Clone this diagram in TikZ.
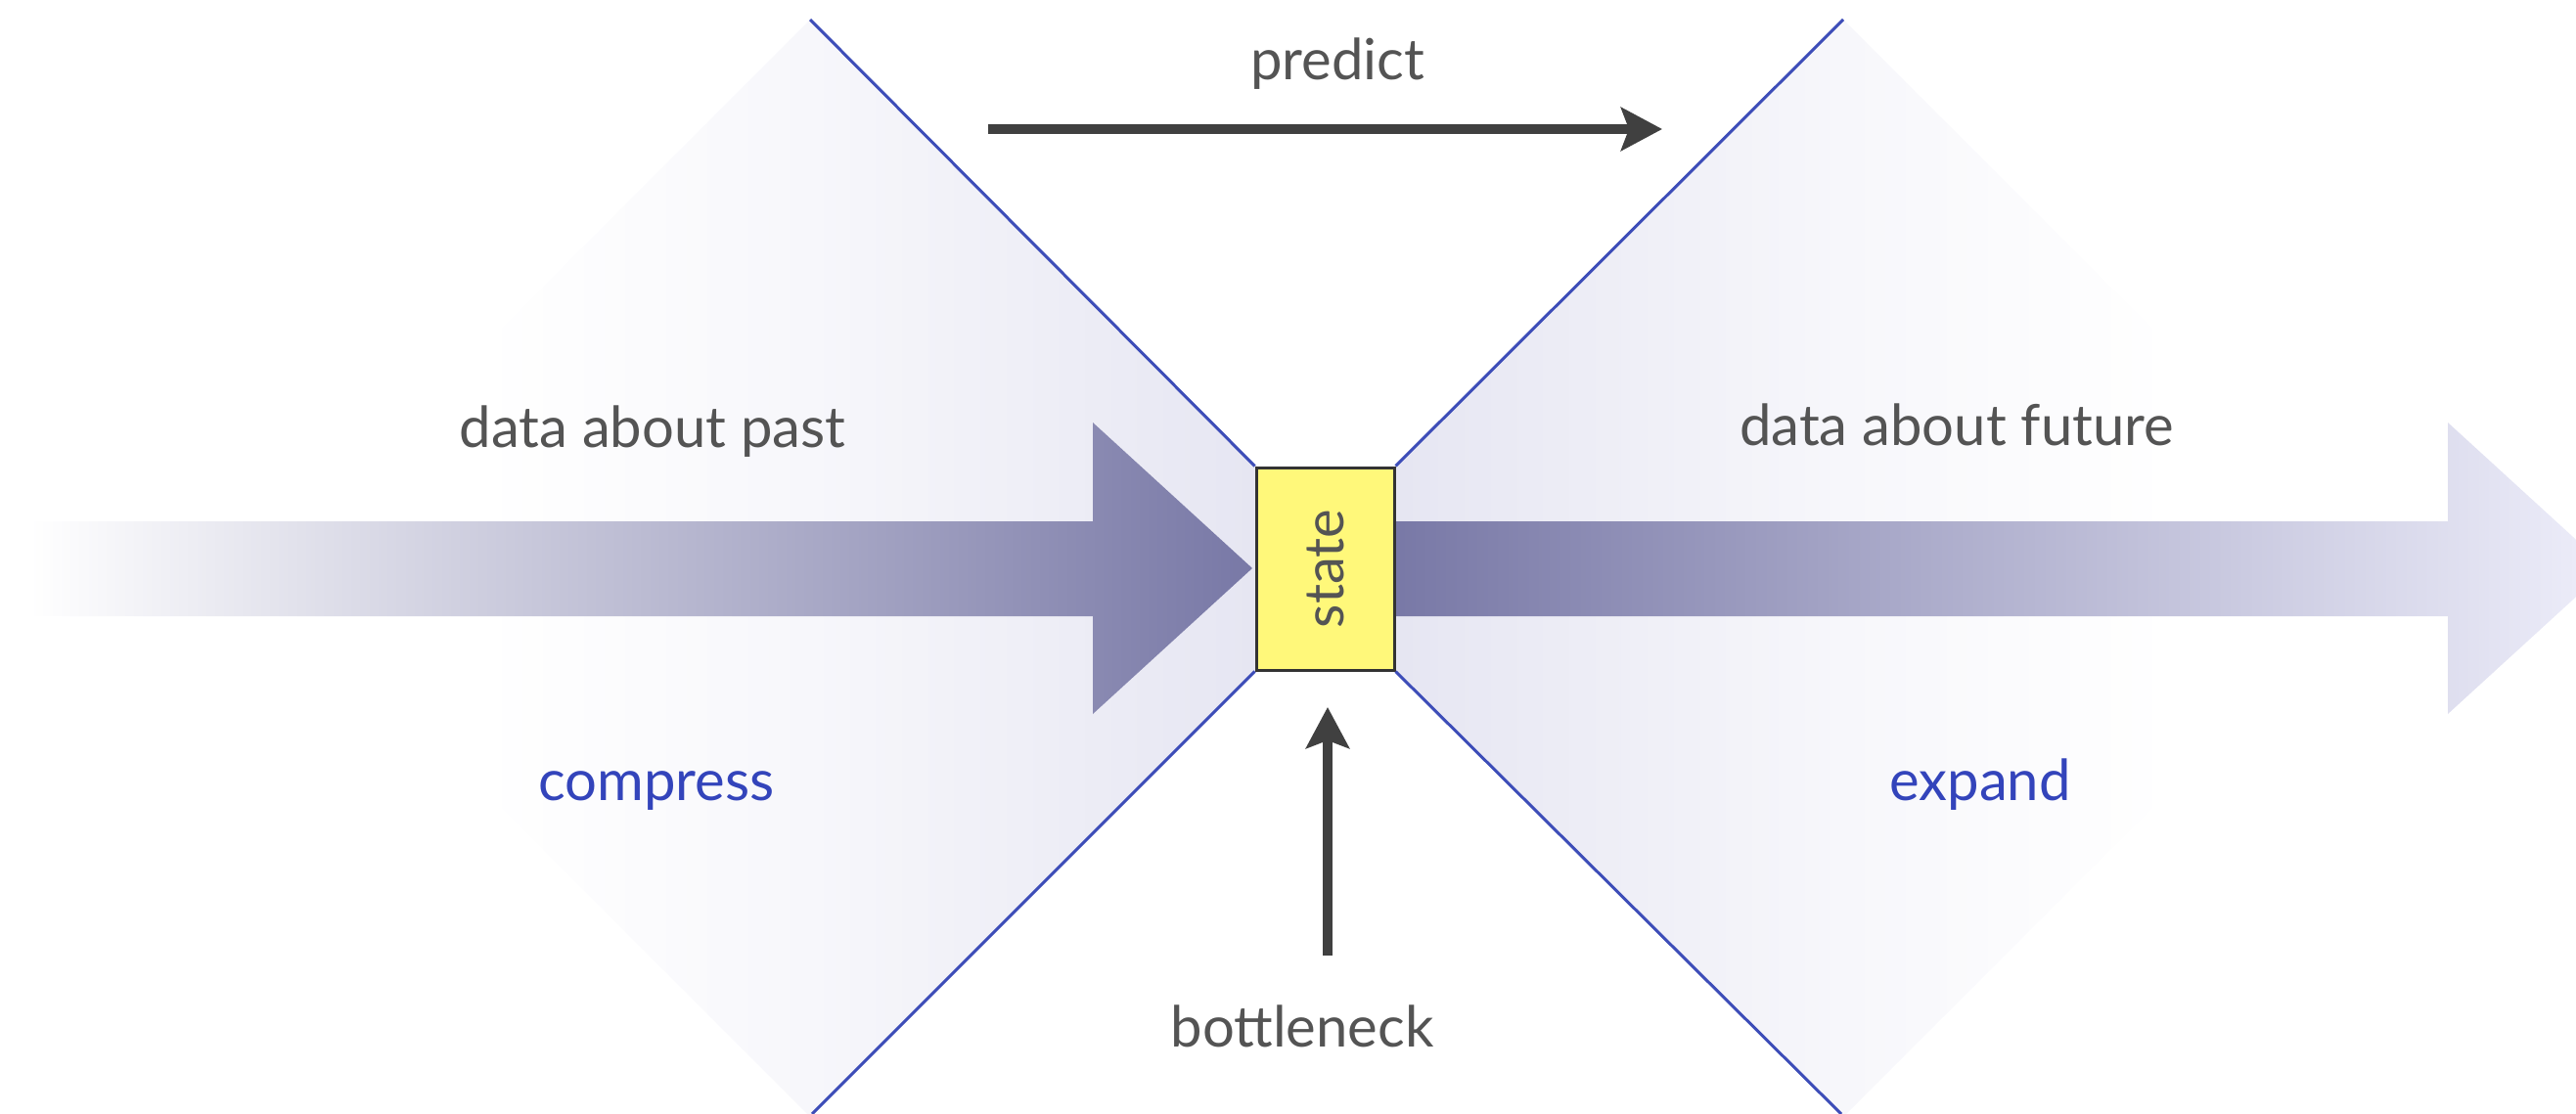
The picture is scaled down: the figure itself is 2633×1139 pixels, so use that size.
\documentclass[tikz,border=0pt]{standalone}
\usepackage{fontspec}
\setmainfont{Lato}
\usetikzlibrary{arrows.meta}
\definecolor{lineblue}{RGB}{61,77,184}
\definecolor{txtblue}{RGB}{51,68,187}
\definecolor{txtgray}{RGB}{84,84,84}
\definecolor{arrgray}{RGB}{64,64,64}
\definecolor{lav}{RGB}{226,226,240}
\definecolor{fademid}{RGB}{247,247,251}
\definecolor{arrdark}{RGB}{120,120,166}
\definecolor{arrlight}{RGB}{238,238,250}
\definecolor{boxyellow}{RGB}{255,248,122}
\pgfdeclarehorizontalshading{lfade}{100bp}{color(0bp)=(white); color(25bp)=(white); color(35bp)=(white); color(50bp)=(fademid); color(75bp)=(lav); color(100bp)=(lav)}
\pgfdeclarehorizontalshading{rfade}{100bp}{color(0bp)=(lav); color(25bp)=(lav); color(50bp)=(fademid); color(65bp)=(white); color(75bp)=(white); color(100bp)=(white)}
\tikzset{
  blueline/.style={draw=lineblue, line width=3pt},
  grayarrow/.style={draw=arrgray, line width=10pt, -{Stealth[length=42pt,width=44pt,inset=8pt]}},
  lbl/.style={text=txtgray, font=\fontsize{58}{66}\selectfont, anchor=base, inner sep=0pt},
  bluelbl/.style={text=txtblue, font=\fontsize{58}{66}\selectfont, anchor=base, inner sep=0pt},
  statebox/.style={draw=black!80, line width=3pt, fill=boxyellow, minimum width=141pt, minimum height=207pt, inner sep=0pt, text=txtgray, font=\fontsize{56}{64}\selectfont}
}
\begin{document}
\begin{tikzpicture}[x=1pt,y=-1pt]
\useasboundingbox (0,0) rectangle (2633,1139);
\begin{scope}
\clip (0,0) rectangle (2633,1139);
% shaded diamonds
\shade[shading=lfade] (828,20) -- (1389,581) -- (828,1142) -- (267,581) -- cycle;
\shade[shading=rfade] (1884,20) -- (2445,581) -- (1884,1142) -- (1323,581) -- cycle;
% big arrows
\shade[left color=white, right color=arrdark] (30,533) -- (1117,533) -- (1117,432) -- (1280,581) -- (1117,730) -- (1117,630) -- (30,630) -- cycle;
\shade[left color=arrdark, right color=arrlight] (1420,533) -- (2502,533) -- (2502,432) -- (2665,581) -- (2502,730) -- (2502,630) -- (1420,630) -- cycle;
\end{scope}
% state box
\node[statebox] (state) at (1354.5,581.5) {\rotatebox{90}{state}};
% diamond vertices
\coordinate (ltop) at (828,20);
\coordinate (lbot) at (830,1139);
\coordinate (rtop) at (1884,20);
\coordinate (rbot) at (1882,1139);
\draw[blueline] (ltop) -- (state.north west);
\draw[blueline] (lbot) -- (state.south west);
\draw[blueline] (rtop) -- (state.north east);
\draw[blueline] (rbot) -- (state.south east);
% labels
\node[lbl] (past) at (667,457) {data about past};
\node[lbl] (future) at (2000,455) {data about future};
\node[bluelbl] (compress) at (671,818) {compress};
\node[bluelbl] (expand) at (2024,818) {expand};
\node[lbl] (predict) at (1367,82) {predict};
\node[lbl] (bottleneck) at (1331,1070) {bottleneck};
% predict arrow
\coordinate (pstart) at (1010,132);
\coordinate (pend) at (1699,132);
\draw[grayarrow] (pstart) -- (pend);
% bottleneck arrow
\coordinate (bstart) at (1357,977);
\coordinate (bend) at (1357,723);
\draw[grayarrow] (bstart) -- (bend);
\end{tikzpicture}
\end{document}
